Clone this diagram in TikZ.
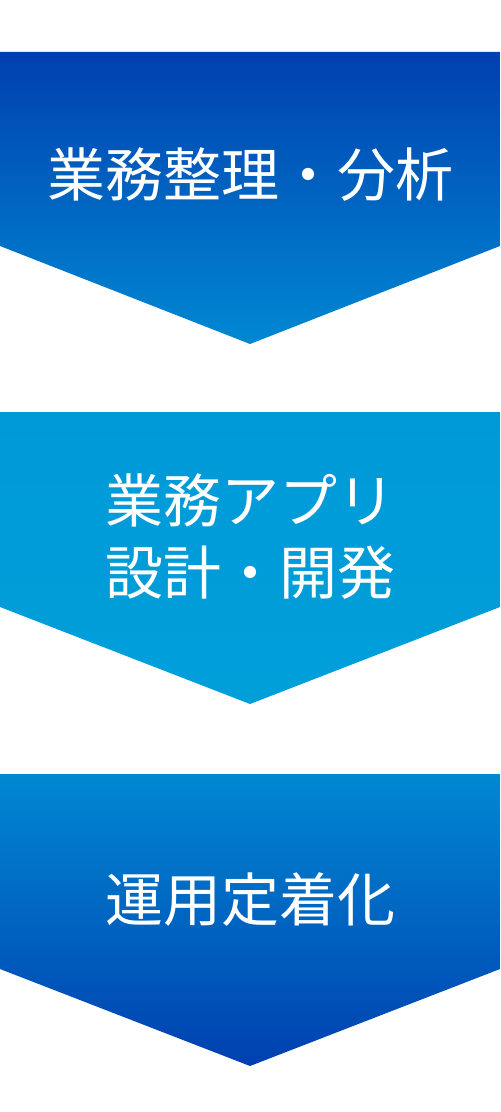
\documentclass[tikz,border=0pt]{standalone}
\usepackage{fontspec}
\setmainfont{Noto Sans CJK JP}
\usepackage{tikz}

\definecolor{BlueDeep}{HTML}{0040B0}
\definecolor{BlueSky}{HTML}{0088D2}
\definecolor{CyanTop}{HTML}{0099D8}
\definecolor{CyanMid}{HTML}{00A8DE}
\definecolor{CyanLow}{HTML}{009FDA}

\tikzset{
  steptext/.style={text=white, font=\fontsize{43.5pt}{54pt}\selectfont, align=center, inner sep=0pt},
}

\begin{document}
\begin{tikzpicture}[x=0.75pt, y=-0.75pt]
\useasboundingbox (0,0) rectangle (500,1112);

\shade[top color=BlueDeep, bottom color=BlueSky]
  (0,52) -- (500,52) -- (500,246) -- (250,344) -- (0,246) -- cycle;
\shade[top color=CyanTop, middle color=CyanMid, bottom color=CyanLow]
  (0,412) -- (500,412) -- (500,607) -- (250,704) -- (0,607) -- cycle;
\shade[top color=BlueSky, bottom color=BlueDeep]
  (0,774) -- (500,774) -- (500,969) -- (250,1066) -- (0,969) -- cycle;

\node[steptext] (analysis) at (250,175) {業務整理・分析};
\node[steptext] (develop)  at (250,537) {業務アプリ\\設計・開発};
\node[steptext] (adoption) at (250,900) {運用定着化};

\end{tikzpicture}
\end{document}
